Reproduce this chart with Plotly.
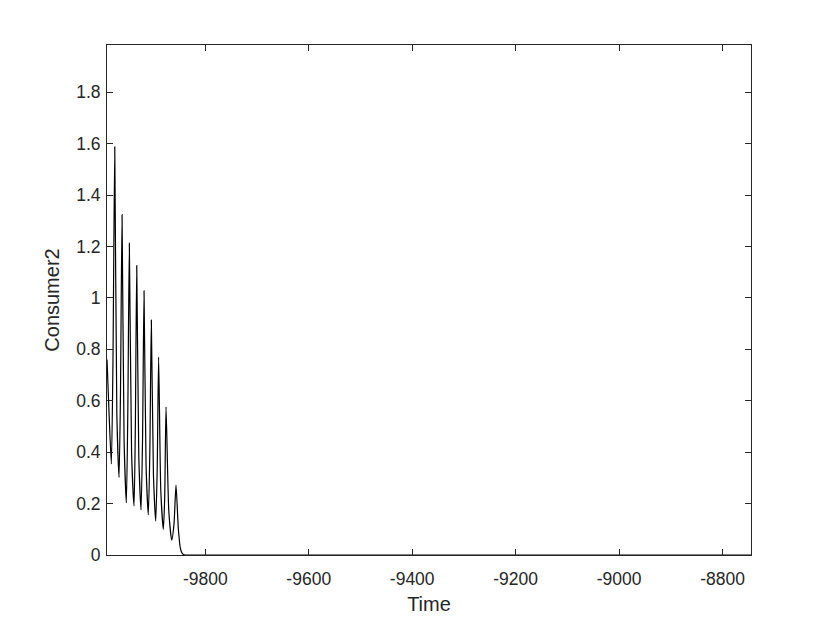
import plotly.graph_objects as go

# values (time, Consumer2)
time = [
    -9990.0, -9986.0, -9981.6, -9978.5, -9975.0, -9971.0, -9966.7, -9964.0,
    -9960.9, -9957.0, -9952.6, -9949.8, -9946.8, -9942.5, -9937.7, -9935.2,
    -9932.5, -9928.5, -9924.2, -9921.3, -9918.4, -9914.5, -9910.1, -9907.2,
    -9904.3, -9900.2, -9895.8, -9893.0, -9890.2, -9886.0, -9881.1, -9878.5,
    -9875.9, -9870.5, -9864.9, -9860.5, -9856.6, -9852.0, -9848.0, -9844.5,
    -9841.0, -9830.0, -9700.0, -9400.0, -9000.0, -8745.0,
]
consumer2 = [
    0.76, 0.55, 0.354, 0.75, 1.588, 0.55, 0.302, 0.62,
    1.324, 0.45, 0.203, 0.55, 1.213, 0.40, 0.191, 0.50,
    1.126, 0.38, 0.175, 0.45, 1.028, 0.35, 0.156, 0.40,
    0.914, 0.31, 0.132, 0.33, 0.770, 0.25, 0.100, 0.22,
    0.576, 0.17, 0.058, 0.12, 0.272, 0.10, 0.025, 0.006,
    0.001, 0.0, 0.0, 0.0, 0.0, 0.0,
]

x_ticks = [-9800, -9600, -9400, -9200, -9000, -8800]
x_labels = ["-9800", "-9600", "-9400", "-9200", "-9000", "-8800"]
y_ticks = [0, 0.2, 0.4, 0.6, 0.8, 1.0, 1.2, 1.4, 1.6, 1.8]
y_labels = ["0", "0.2", "0.4", "0.6", "0.8", "1", "1.2", "1.4", "1.6", "1.8"]

AX = "#262626"
FONT = "Liberation Sans, Arial, sans-serif"

fig = go.Figure()
fig.add_trace(go.Scatter(
    x=time,
    y=consumer2,
    mode="lines",
    line=dict(color="black", width=1.2, shape="spline", smoothing=0.6),
    showlegend=False,
))

axis_common = dict(
    showline=True, linecolor=AX, linewidth=1, mirror="ticks",
    ticks="inside", ticklen=6, tickwidth=1, tickcolor=AX,
    showgrid=False, zeroline=False,
    tickfont=dict(family=FONT, size=17.5, color=AX),
)

fig.update_xaxes(
    range=[-9990, -8745], tickvals=x_ticks, ticktext=x_labels,
    ticklabelstandoff=8,
    title=dict(text="Time", font=dict(family=FONT, size=20, color=AX), standoff=8),
    **axis_common,
)
fig.update_yaxes(
    range=[0, 1.984], tickvals=y_ticks, ticktext=y_labels,
    ticklabelstandoff=2,
    title=dict(text="Consumer2", font=dict(family=FONT, size=20, color=AX), standoff=11),
    **axis_common,
)
# page body adds 8px offset, so margins are trimmed accordingly
fig.update_layout(
    width=830, height=623,
    margin=dict(l=99, r=87, t=37, b=76),
    plot_bgcolor="white", paper_bgcolor="white",
)

fig.write_html("out.html")
